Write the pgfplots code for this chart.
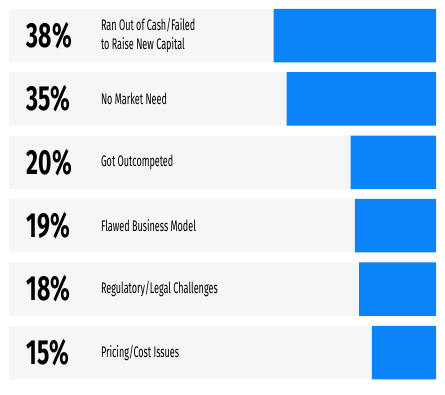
\documentclass[border=0pt]{standalone}
\usepackage{fontspec}
\setmainfont{Fira Sans}
\newfontfamily\pctfont[FakeStretch=0.66]{Fira Sans Bold}
\newfontfamily\labfont[FakeStretch=0.59]{Fira Sans}
\usepackage{pgfplots}
\usepackage{pgfplotstable}
\pgfplotsset{compat=1.18}
\definecolor{barblue}{RGB}{10,132,248}
\definecolor{bggray}{RGB}{246,246,246}
\pgfplotstableread{
idx pct
0 38
1 35
2 20
3 19
4 18
5 15
}\datatable
\begin{document}
\begin{tikzpicture}[x=1bp,y=1bp]
\path[use as bounding box] (0,0) rectangle (445,394);
\begin{axis}[
  at={(9bp,9.8bp)}, anchor=south west,
  scale only axis, width=427bp, height=380.4bp,
  x dir=reverse, y dir=reverse,
  xmin=0, xmax=100, ymin=-0.5, ymax=5.5,
  axis line style={draw=none},
  axis on top,
  xtick=\empty, ytick={0,1,2,3,4,5},
  yticklabels={{Ran Out of Cash/Failed\\to Raise New Capital},{No Market Need},{Got Outcompeted},{Flawed Business Model},{Regulatory/Legal Challenges},{Pricing/Cost Issues}},
  yticklabel style={anchor=west, align=left, xshift=88.5bp, font=\labfont\fontsize{15.4}{18.7}\selectfont, text=black},
  major tick length=0pt,
  clip=false,
  bar width=53.5bp,
]
\addplot[xbar, bar shift=0pt, fill=bggray, draw=none] table[x expr=100, y=idx] {\datatable};
\addplot[xbar, bar shift=0pt, fill=barblue, draw=none] table[x=pct, y=idx] {\datatable};
\addplot[draw=none, mark=none, point meta=explicit symbolic,
  nodes near coords={\pgfplotspointmeta\%},
  nodes near coords style={anchor=west, inner sep=0pt, font=\pctfont\fontsize{35}{35}\selectfont, text=black}]
  table[x expr=95.9, y=idx, meta=pct] {\datatable};
\end{axis}
\end{tikzpicture}
\end{document}
